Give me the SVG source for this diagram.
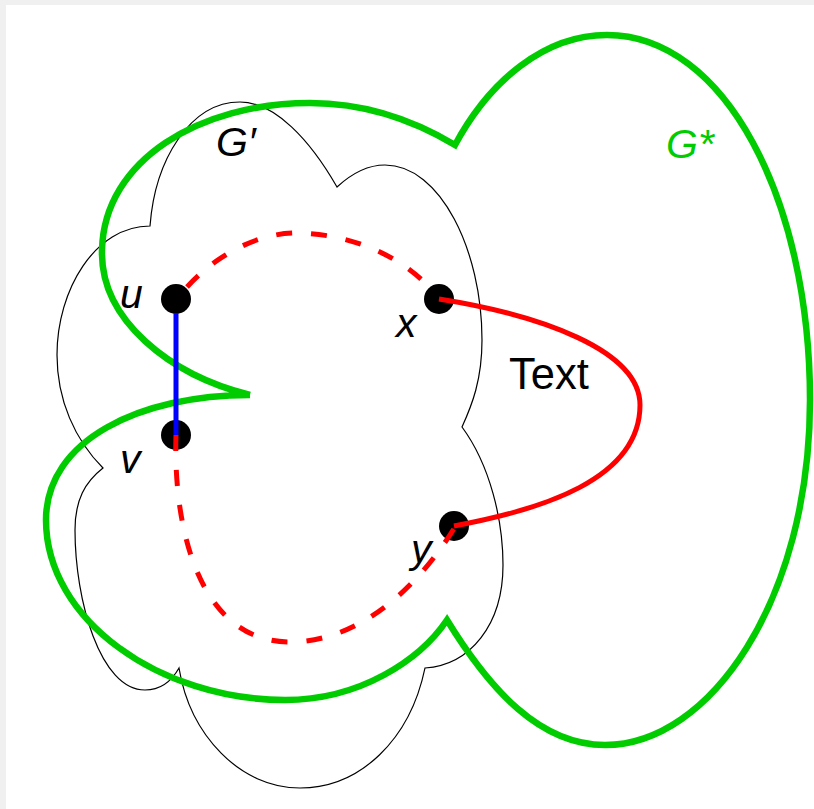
<svg xmlns="http://www.w3.org/2000/svg" width="814" height="809" viewBox="0 0 814 809">
<style>
.cloud{fill:none;stroke:#000;stroke-width:1.2}
.green{fill:none;stroke:#00cc00;stroke-width:6.5;stroke-linejoin:miter;stroke-miterlimit:20}
.red{fill:none;stroke:#ff0000;stroke-width:5}
.dash{fill:none;stroke:#ff0000;stroke-width:5;stroke-dasharray:16 19}
.blue{fill:none;stroke:#0000ff;stroke-width:5}
.dot{fill:#000}
.lab{font-family:"Liberation Sans",Arial,sans-serif;font-style:italic;font-size:41px;fill:#000}
</style>
<rect x="0" y="0" width="814" height="809" fill="#f0f0f0"/>
<rect x="6" y="5" width="808" height="804" fill="#fff"/>
<g id="gprime">
<path class="cloud" d="M150,226 C155,160 190,102 240,102 C275,102 310,140 337,187 C350,175 365,165 385,165 C440,165 482,250 482,340 C482,380 472,405 462,427 C490,465 503,520 503,565 C503,625 470,665 425,668 C410,740 360,788 300,788 C240,788 190,735 179,668 C170,684 158,690 145,690 C100,690 75,600 75,530 C75,500 85,482 103,468 C75,440 57,400 57,355 C57,290 95,226 150,226 Z"/>
<text class="lab" x="216" y="156" font-size="38">G′</text>
</g>
<g id="gstar">
<path class="green" d="M250,395 C170,375 100,320 102,250 C104,160 200,103 310,103 C360,103 410,118 455,145 C490,80 545,35 607,35 C725,35 810,200 810,400 C810,600 710,745 605,745 C540,745 490,690 447,620 C420,660 360,700 285,700 C160,700 46,620 46,520 C46,440 140,395 250,395"/>
<text class="lab" x="666" y="158" style="fill:#00cc00">G*</text>
</g>
<g id="node-u"><circle class="dot" cx="176" cy="299" r="15"/><text class="lab" x="120" y="308">u</text></g>
<g id="node-v"><circle class="dot" cx="176" cy="435" r="15"/><text class="lab" x="120" y="473">v</text></g>
<g id="node-x"><circle class="dot" cx="439" cy="299" r="15"/><text class="lab" x="396" y="337">x</text></g>
<g id="node-y"><circle class="dot" cx="454" cy="526" r="15"/><text class="lab" x="411" y="563">y</text></g>
<g id="connectors">
<line class="blue" x1="176" y1="313" x2="176" y2="435"/>
<path class="dash" d="M187,287 C220,251 262,233 296,233 C340,233 395,250 430,288"/>
<path class="dash" d="M176,435 C173,530 200,642 290,642 C350,642 410,600 455,527"/>
<path class="red" d="M439,299 C540,315 640,350 640,405 C640,480 540,510 454,526"/>
<text x="509" y="389" font-family="Liberation Sans,Arial,sans-serif" font-size="43.5" fill="#000">Text</text>
</g>
</svg>
